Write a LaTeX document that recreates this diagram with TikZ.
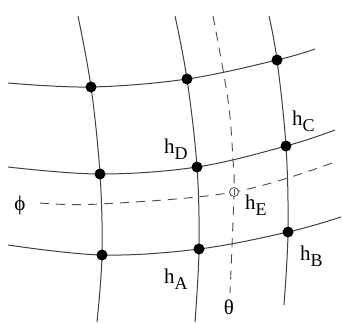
\documentclass[tikz,border=0pt]{standalone}
\usepackage{fontspec}
\setmainfont{Liberation Serif}
\newcommand{\hlab}[1]{\fontsize{21}{24}\selectfont h\raisebox{-6pt}{\fontsize{18}{20}\selectfont #1}}
\begin{document}
\begin{tikzpicture}[x=1pt,y=-1pt,
  grid/.style={draw=black!75,line width=1pt},
  guide/.style={draw=black!70,line width=0.9pt,dash pattern=on 9pt off 7pt},
  dot/.style={circle,fill=black,inner sep=0pt,minimum size=11pt},
  odot/.style={circle,draw=black!70,fill=white,line width=0.8pt,inner sep=0pt,minimum size=9pt},
  lab/.style={inner sep=0pt,anchor=base west},
  glab/.style={inner sep=0pt,font=\fontsize{21}{24}\selectfont}]
\useasboundingbox (0,0) rectangle (342,322);
% end coordinates
\coordinate (v1t) at (78,16);  \coordinate (v1b) at (97,322);
\coordinate (v2t) at (175,16); \coordinate (v2b) at (195,322);
\coordinate (v3t) at (269,16); \coordinate (v3b) at (284,305);
\coordinate (tt) at (213,16);  \coordinate (tm1) at (228,100); \coordinate (tm2) at (233,160); \coordinate (tb) at (230,293);
\coordinate (h1l) at (8,83);   \coordinate (h1r) at (315,49);
\coordinate (h2l) at (8,167);  \coordinate (h2r) at (335,130);
\coordinate (h3l) at (8,245);  \coordinate (h3r) at (341,217);
\coordinate (pl) at (40,203);  \coordinate (pm) at (100,204); \coordinate (pr) at (335,162);
% dot positions
\coordinate (p11) at (91,87);  \coordinate (p12) at (187,79);  \coordinate (p13) at (277,60);
\coordinate (p21) at (100,174);\coordinate (p22) at (197,167); \coordinate (p23) at (286,146);
\coordinate (p31) at (102,255);\coordinate (p32) at (199,249); \coordinate (p33) at (288,232);
\coordinate (pE) at (234,192);
% curves
\draw[grid] plot[smooth,tension=0.6] coordinates {(v1t) (p11) (p21) (p31) (v1b)};
\draw[grid] plot[smooth,tension=0.6] coordinates {(v2t) (p12) (p22) (p32) (v2b)};
\draw[grid] plot[smooth,tension=0.6] coordinates {(v3t) (p13) (p23) (p33) (v3b)};
\draw[grid] plot[smooth,tension=0.6] coordinates {(h1l) (p11) (p12) (p13) (h1r)};
\draw[grid] plot[smooth,tension=0.6] coordinates {(h2l) (p21) (p22) (p23) (h2r)};
\draw[grid] plot[smooth,tension=0.6] coordinates {(h3l) (p31) (p32) (p33) (h3r)};
\draw[guide] plot[smooth,tension=0.6] coordinates {(tt) (tm1) (tm2) (pE) (tb)};
\draw[guide] plot[smooth,tension=0.6] coordinates {(pl) (pm) (pE) (pr)};
% dots
\foreach \p in {11,12,13,21,22,23,31,32,33} \node[dot] (n\p) at (p\p) {};
\node[odot] (nE) at (pE) {};
\draw[black!70,line width=0.8pt] ([yshift=-3pt]nE.center) -- ([yshift=3pt]nE.center);
% labels
\node[lab] (lA) at (164,283) {\hlab{A}};
\node[lab] (lB) at (300,260) {\hlab{B}};
\node[lab] (lC) at (292,125) {\hlab{C}};
\node[lab] (lD) at (164,153) {\hlab{D}};
\node[lab] (lE) at (245,209) {\hlab{E}};
\node[glab] (lth) at (229,307) {θ};
\node[glab] (lph) at (20,205) {ϕ};
\end{tikzpicture}
\end{document}
